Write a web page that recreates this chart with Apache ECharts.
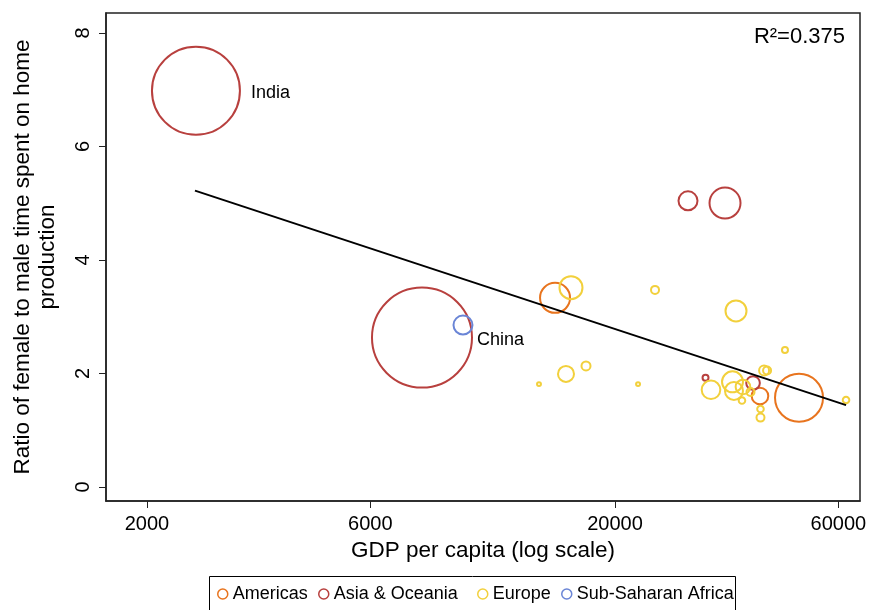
<!DOCTYPE html>
<html><head><meta charset="utf-8">
<script src="https://cdn.jsdelivr.net/npm/echarts@6/dist/echarts.min.js"></script>
<style>html,body{margin:0;padding:0;background:#fff}#c{width:873px;height:610px}</style>
</head><body><div id="c"></div>
<script>
// ---------- data ----------
const regions = ['Americas', 'Asia & Oceania', 'Europe', 'Sub-Saharan Africa'];
const regionColors = ['#E8741E', '#B8403E', '#F2D03C', '#6A85D6'];

const americasGdp   = [14890, 49450, 40810];
const americasRatio = [3.33, 1.57, 1.60];
const americasPop   = [120.6, 308.7, 36.9];
const americasNames = ['', '', ''];

const asiaGdp   = [2545, 7738, 28640, 34360, 39440, 31220];
const asiaRatio = [6.98, 2.63, 5.04, 5.00, 1.83, 1.92];
const asiaPop   = [1037, 1340, 48.4, 128.8, 24.8, 4.8];
const asiaNames = ['India', 'China', '', '', '', ''];

const europeGdp   = [16105, 24350, 36270, 46150, 15715, 17340, 13760, 22400, 32070, 35650, 35910, 37530, 37350, 38950, 41640, 42260, 40910, 40910, 62320];
const europeRatio = [3.51, 3.47, 3.10, 2.41, 1.99, 2.13, 1.81, 1.81, 1.71, 1.85, 1.69, 1.76, 1.52, 1.67, 2.05, 2.05, 1.37, 1.22, 1.53];
const europePop   = [70.9, 8.6, 59, 4.8, 34.3, 10.9, 2.1, 2.1, 46.4, 59, 43.4, 28.6, 5.8, 8.6, 13.4, 8.6, 5.8, 8.6, 5.8];
const europeNames = europeGdp.map(() => '');

const ssaGdp   = [9467];
const ssaRatio = [2.85];
const ssaPop   = [48.4];
const ssaNames = ['South Africa'];

const fitGdp   = [2533, 62320];
const fitRatio = [5.22, 1.44];

const xTicks = [2000, 6000, 20000, 60000];
const yTicks = [0, 2, 4, 6, 8];
const r2Text = 'R\u00B2=0.375';

// ---------- chart ----------
const FONT = "'Liberation Sans', Arial, Helvetica, sans-serif";
const sizeScale = 2 * 1.366; // diameter per sqrt(pop)
const shownLabels = { 'India': 10, 'China': 4 };

function build(gdp, ratio, pop, names) {
  return gdp.map((g, i) => {
    const item = { value: [g, ratio[i], pop[i]], name: names[i] };
    if (shownLabels[names[i]] !== undefined) {
      item.label = { show: true, position: 'right', distance: shownLabels[names[i]], offset: [0, 2],
        formatter: names[i], color: '#000', fontSize: 18, fontFamily: FONT };
    }
    return item;
  });
}
const groups = [
  build(americasGdp, americasRatio, americasPop, americasNames),
  build(asiaGdp, asiaRatio, asiaPop, asiaNames),
  build(europeGdp, europeRatio, europePop, europeNames),
  build(ssaGdp, ssaRatio, ssaPop, ssaNames)
];

const series = groups.map((data, k) => ({
  name: regions[k], type: 'scatter', data: data,
  symbol: 'circle',
  symbolSize: v => sizeScale * Math.sqrt(v[2]),
  itemStyle: { color: 'rgba(0,0,0,0)', borderColor: regionColors[k], borderWidth: 2, opacity: 1 },
  emphasis: { disabled: true },
  z: 3
}));
series.push({
  name: 'fit', type: 'line', data: fitGdp.map((g, i) => [g, fitRatio[i]]),
  symbol: 'none', lineStyle: { color: '#000', width: 2 }, silent: true, z: 4
});

const legendLeft = [217, 318, 477, 561];
const legends = regions.map((r, k) => ({
  data: [r], left: legendLeft[k], top: 585, padding: 0,
  icon: 'circle', itemWidth: 10, itemHeight: 10, itemGap: 5,
  itemStyle: { color: 'rgba(0,0,0,0)', borderColor: regionColors[k], borderWidth: 1.5 },
  textStyle: { fontSize: 18, color: '#000', fontFamily: FONT, padding: [0, 0, 0, 0] },
  selectedMode: false
}));

const chart = echarts.init(document.getElementById('c'), null, { renderer: 'canvas' });
chart.setOption({
  animation: false,
  backgroundColor: '#fff',
  textStyle: { fontFamily: FONT },
  grid: { left: 106, right: 13, top: 13, bottom: 109, show: true, borderColor: '#222', borderWidth: 1.5, backgroundColor: 'transparent' },
  xAxis: {
    type: 'log', min: 1635, max: 66750,
    name: 'GDP per capita (log scale)', nameLocation: 'middle', nameGap: 35,
    nameTextStyle: { fontSize: 22.5, color: '#000', fontFamily: FONT },
    axisLine: { show: true, onZero: false, lineStyle: { color: '#222', width: 1.5 } },
    axisTick: { show: true, length: 7, customValues: xTicks, lineStyle: { color: '#222', width: 1 } },
    axisLabel: { customValues: xTicks, fontSize: 20, color: '#000', margin: 13, fontFamily: FONT, formatter: v => String(Math.round(v)) },
    splitLine: { show: false }, minorTick: { show: false }
  },
  yAxis: {
    type: 'value', min: -0.25, max: 8.35,
    name: 'Ratio of female to male time spent on home\nproduction', nameLocation: 'middle', nameGap: 46,
    nameTextStyle: { fontSize: 22.5, color: '#000', lineHeight: 25, fontFamily: FONT },
    axisLine: { show: true, onZero: false, lineStyle: { color: '#222', width: 1.5 } },
    axisTick: { show: true, length: 7, customValues: yTicks, lineStyle: { color: '#222', width: 1 } },
    axisLabel: { customValues: yTicks, rotate: 90, fontSize: 20, color: '#000', margin: 13, fontFamily: FONT },
    splitLine: { show: false }
  },
  legend: legends,
  graphic: [
    { type: 'rect', left: 207, top: 574, shape: { width: 526, height: 50 },
      style: { fill: 'none', stroke: '#000', lineWidth: 1 }, silent: true },
    { type: 'text', right: 28, top: 26,
      style: { text: r2Text, fill: '#000', font: '22px ' + FONT } }
  ],
  series: series
});
</script>
</body></html>
